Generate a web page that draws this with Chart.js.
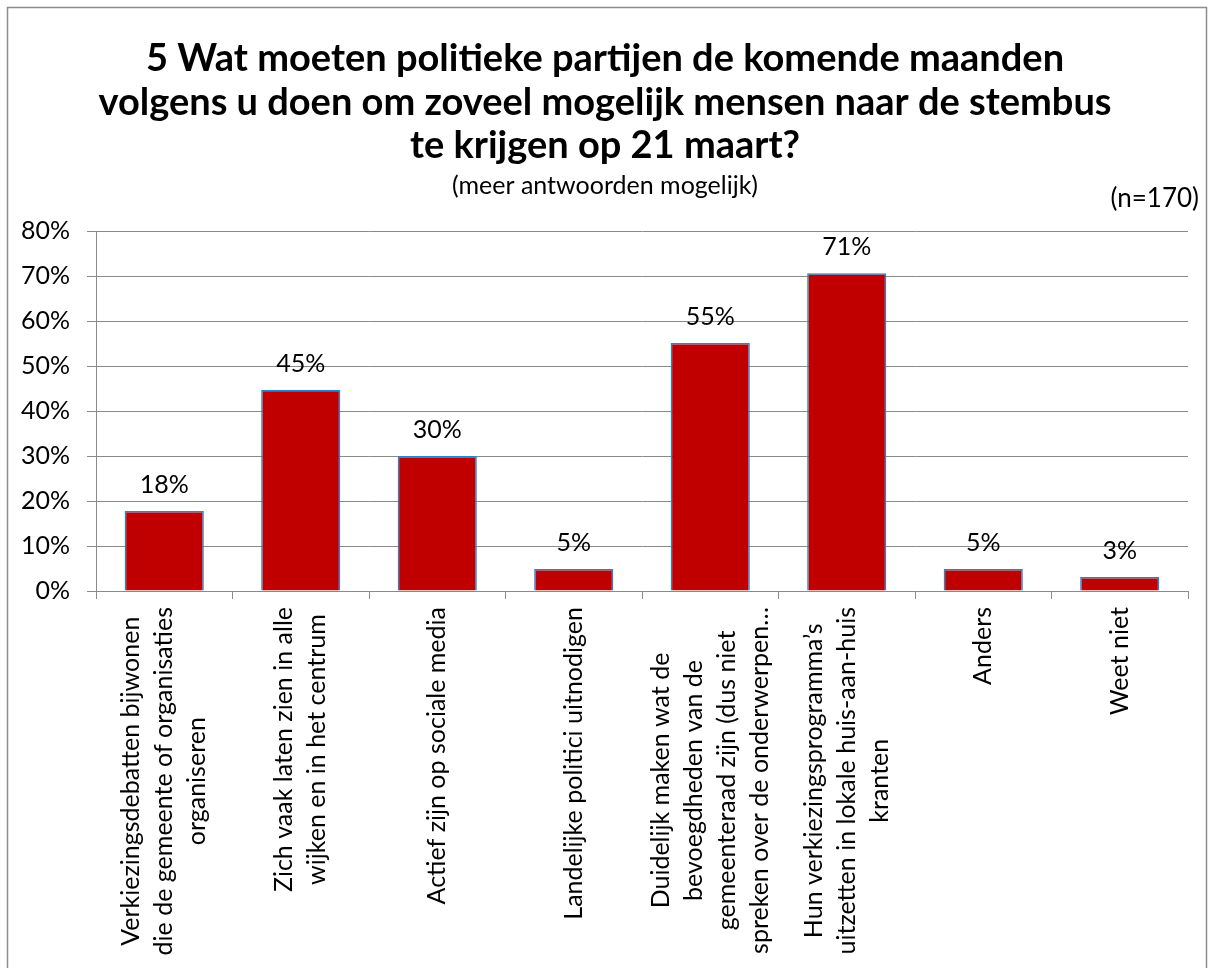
<!DOCTYPE html>
<html><head><meta charset="utf-8">
<script src="https://cdn.jsdelivr.net/npm/chart.js@4/dist/chart.umd.min.js"></script>
<style>html,body{margin:0;padding:0;background:#fff;overflow:hidden}canvas{display:block}</style>
</head><body>
<canvas id="c" width="1213" height="968"></canvas>
<script>
const titleLines = [
  "5 Wat moeten politieke partijen de komende maanden",
  "volgens u doen om zoveel mogelijk mensen naar de stembus",
  "te krijgen op 21 maart?"
];
const subtitleText = "(meer antwoorden mogelijk)";
const sampleNote = "(n=170)";
const categories = [
  ["Verkiezingsdebatten bijwonen", "die de gemeente of organisaties", "organiseren"],
  ["Zich vaak laten zien in alle", "wijken en in het centrum"],
  ["Actief zijn op sociale media"],
  ["Landelijke politici uitnodigen"],
  ["Duidelijk maken wat de", "bevoegdheden van de", "gemeenteraad zijn (dus niet", "spreken over de onderwerpen…"],
  ["Hun verkiezingsprogramma’s", "uitzetten in lokale huis-aan-huis", "kranten"],
  ["Anders"],
  ["Weet niet"]
];
const values = [17.8, 44.7, 30.0, 4.9, 55.1, 70.6, 4.9, 3.1];
const yTickValues = [0, 10, 20, 30, 40, 50, 60, 70, 80];

const FONT = "Lato, 'Open Sans', sans-serif";
const GRID = '#8a8a8a';
const LABEL_SIZE = 25;
const TITLE_SIZE = 38;

const decor = {
  id: 'decor',
  beforeDraw(chart) {
    const ctx = chart.ctx;
    ctx.save();
    ctx.fillStyle = '#fff';
    ctx.fillRect(0, 0, chart.width, chart.height);
    ctx.strokeStyle = '#8c8c8c';
    ctx.lineWidth = 1.5;
    ctx.strokeRect(7.5, 7.5, 1199, 1000);
    ctx.restore();
  },
  afterDatasetsDraw(chart) {
    const ctx = chart.ctx;
    const meta = chart.getDatasetMeta(0);
    ctx.save();
    ctx.font = `${LABEL_SIZE}px ${FONT}`;
    ctx.fillStyle = '#000';
    ctx.textAlign = 'center';
    ctx.textBaseline = 'alphabetic';
    meta.data.forEach((bar, i) => {
      ctx.fillText(Math.round(values[i]) + '%', bar.x, bar.y - 18);
    });
    ctx.restore();
  },
  afterDraw(chart) {
    const ctx = chart.ctx;
    ctx.save();
    ctx.fillStyle = '#000';
    ctx.textAlign = 'center';
    ctx.textBaseline = 'middle';
    ctx.font = `bold ${TITLE_SIZE}px ${FONT}`;
    const cx = 605;
    titleLines.forEach((t, i) => ctx.fillText(t, cx, 59 + i * 43.5));
    ctx.font = `25px ${FONT}`;
    ctx.fillText(subtitleText, cx, 186);
    ctx.textAlign = 'right';
    ctx.font = `26px ${FONT}`;
    ctx.fillText(sampleNote, 1199, 199);
    // category labels, rotated, lines centred
    const xs = chart.scales.x;
    const top = chart.chartArea.bottom + 16;
    ctx.font = `${LABEL_SIZE}px ${FONT}`;
    ctx.textAlign = 'center';
    const lh = 33;
    categories.forEach((lines, i) => {
      const x = xs.getPixelForValue(i);
      const w = Math.max(...lines.map(l => ctx.measureText(l).width));
      ctx.save();
      ctx.translate(x, top + w / 2);
      ctx.rotate(-Math.PI / 2);
      lines.forEach((l, j) => {
        ctx.fillText(l, 0, (j - (lines.length - 1) / 2) * lh);
      });
      ctx.restore();
    });
    ctx.restore();
  }
};

new Chart(document.getElementById('c'), {
  type: 'bar',
  data: {
    labels: categories,
    datasets: [{
      data: values,
      backgroundColor: '#c00000',
      borderColor: '#2a82d2',
      borderWidth: 1.5,
      categoryPercentage: 1,
      barPercentage: 0.58
    }]
  },
  options: {
    responsive: false,
    animation: false,
    devicePixelRatio: 1,
    layout: { padding: { top: 231, right: 25, bottom: 0, left: 0 } },
    plugins: { legend: { display: false }, tooltip: { enabled: false }, title: { display: false } },
    scales: {
      x: {
        grid: { display: true, drawOnChartArea: false, drawTicks: true, tickLength: 8, color: GRID, offset: true },
        border: { color: GRID },
        ticks: { display: false },
        afterFit(s) { s.height = 968 - 591; }
      },
      y: {
        min: 0, max: 80,
        afterBuildTicks(s) { s.ticks = yTickValues.map(v => ({ value: v })); },
        ticks: { callback: v => v + '%', font: { size: LABEL_SIZE, family: FONT }, color: '#000', padding: 17 },
        grid: { color: GRID, tickLength: 9 },
        border: { color: GRID },
        afterFit(s) { s.width = 96; }
      }
    }
  },
  plugins: [decor]
});
</script>
</body></html>
